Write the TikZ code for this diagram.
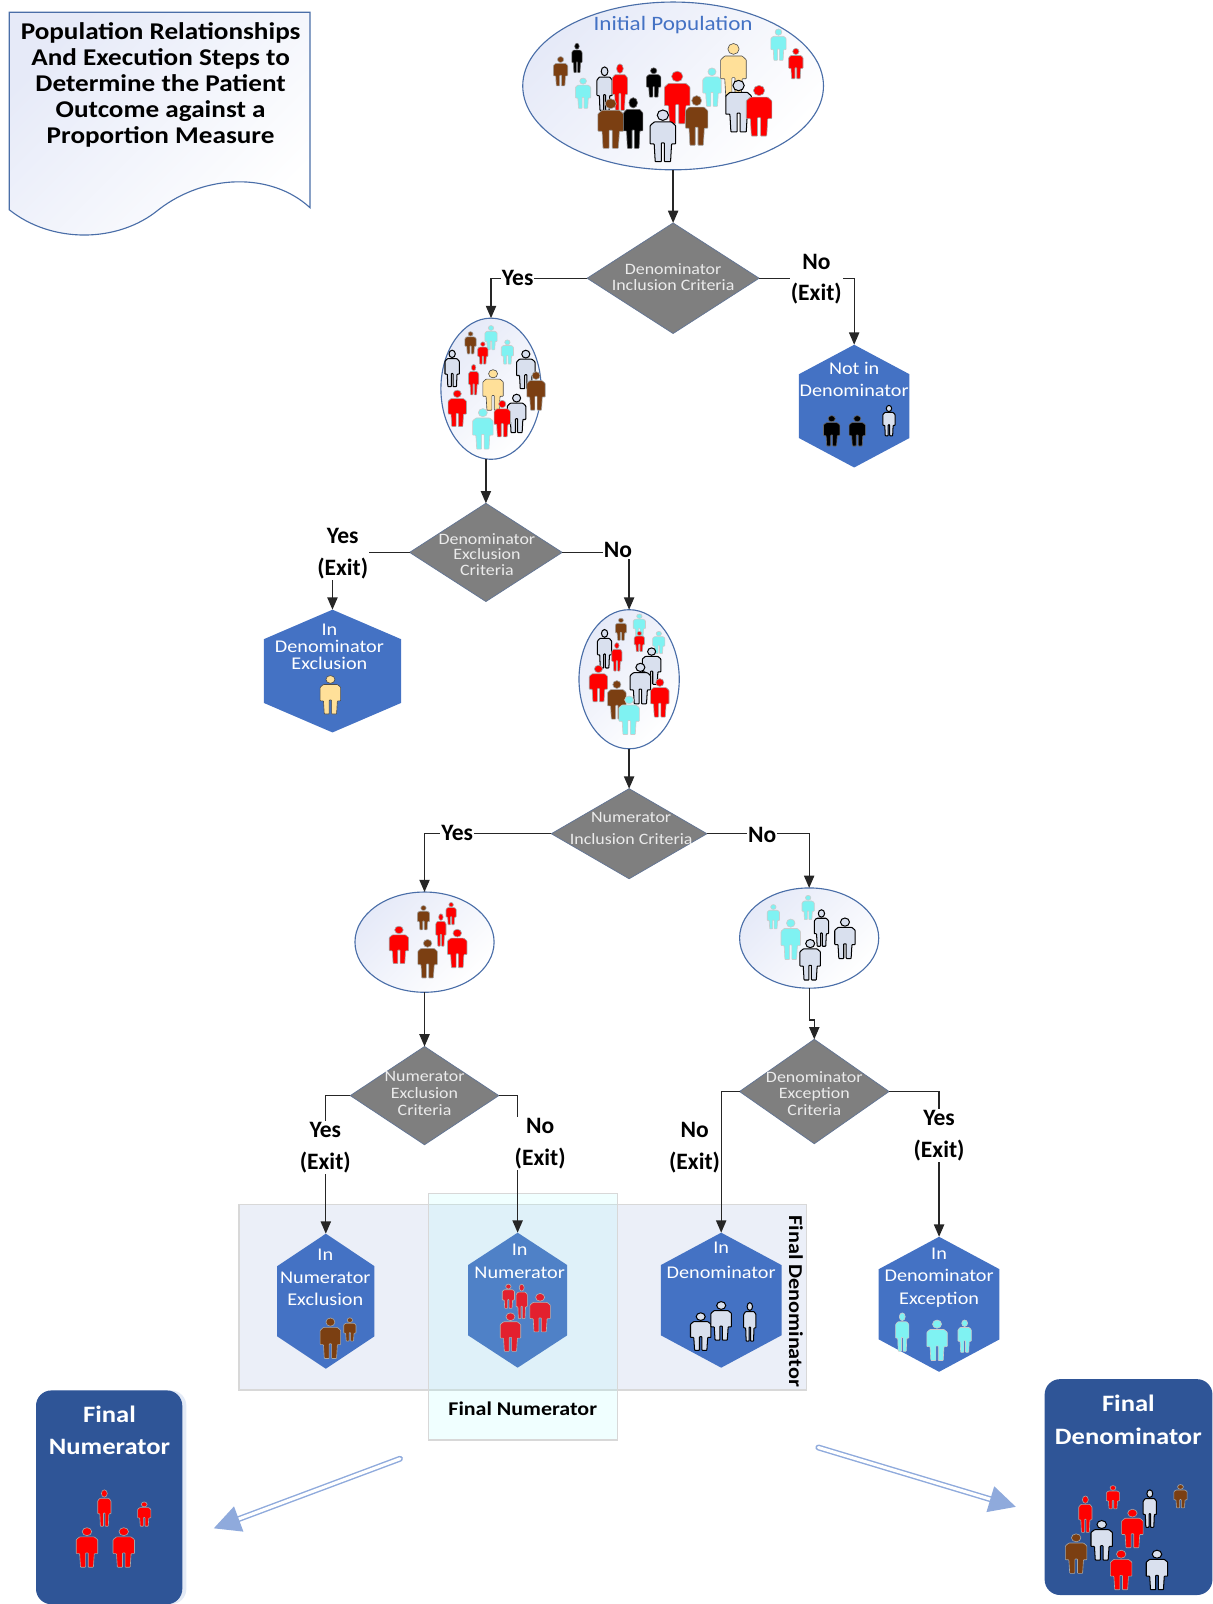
\documentclass[tikz,border=0pt]{standalone}
\usepackage{fontspec}
\setmainfont{Carlito}
\newfontfamily\widefont[FakeStretch=1.13]{Carlito}
\usepackage{tikz}
\usetikzlibrary{arrows.meta, positioning, shapes.geometric, calc, shadows}

\definecolor{hexblue}{HTML}{4472C4}
\definecolor{hexlight}{HTML}{4F81C7}
\definecolor{finalblue}{HTML}{2F5597}
\definecolor{tipblue}{HTML}{8FAADC}
\definecolor{decisiongrey}{HTML}{7F7F7F}
\definecolor{outlineblue}{HTML}{4A6EA8}
\definecolor{paleblue}{HTML}{E6EAF8}
\definecolor{denomband}{HTML}{EBEFF8}
\definecolor{numband}{HTML}{9BFFFF}
\definecolor{bandline}{HTML}{D8D8D8}
\definecolor{personbrown}{HTML}{7B3F12}
\definecolor{persongrey}{HTML}{D9E0EE}
\definecolor{personcyan}{HTML}{7FF2F2}
\definecolor{persontan}{HTML}{FFE099}
\definecolor{personred}{HTML}{FF0000}
\definecolor{softred}{HTML}{E3202E}

% One figure: centre x, top y, width, height, look
\newcommand{\person}[5]{%
  \begin{scope}[shift={(#1,#2)}, x=#3pt, y=-#4pt, line width=.6pt, #5]
    \filldraw (0,.11) circle [x radius=.22, y radius=.1];
    \filldraw[rounded corners=.6pt] (-.34,.24) -- (.34,.24) -- (.5,.31) -- (.5,.66) -- (.34,.66) -- (.3,1)
        -- (.06,1) -- (.06,.64) -- (-.06,.64) -- (-.06,1) -- (-.3,1) -- (-.34,.66) -- (-.5,.66) -- (-.5,.31) -- cycle;
  \end{scope}
}

% Hexagon: [fill] name, centre x, top y, width, height
\newcommand{\hexbox}[6][hexblue]{%
  \node[hexframe, minimum width=#5pt, minimum height=#6pt] (#2) at (#3,#4) {};
  \fill[#1] (#2.north) -- ($(#2.north east)!.24!(#2.south east)$) -- ($(#2.north east)!.76!(#2.south east)$)
      -- (#2.south) -- ($(#2.north west)!.76!(#2.south west)$) -- ($(#2.north west)!.24!(#2.south west)$) -- cycle;
}

\begin{document}
\begin{tikzpicture}[
    x=1pt, y=-1pt,
    % Styles
    popcloud/.style={ellipse, draw=outlineblue, line width=1.1pt, top color=paleblue, middle color=white, bottom color=white, shading angle=45, inner sep=0pt, outer sep=0pt},
    decision/.style={diamond, draw=outlineblue!50!decisiongrey, line width=.8pt, fill=decisiongrey, inner sep=0pt, outer sep=0pt},
    decisiontext/.style={font=\widefont\fontsize{15.5}{15}\selectfont, text=white!92!black, align=center, inner sep=0pt},
    hexframe/.style={anchor=north, inner sep=0pt, outer sep=0pt},
    hextext/.style={font=\widefont\fontsize{17.5}{22}\selectfont, text=white, align=center, inner sep=0pt},
    flowline/.style={draw=black!85, line width=1.3pt, -{Triangle[length=12pt,width=10pt]}},
    flowlabel/.style={font=\bfseries\fontsize{23}{31}\selectfont, fill=white, align=center, inner sep=1pt},
    finalbox/.style={anchor=north west, fill=finalblue, rounded corners=15pt, inner sep=0pt},
    finaltext/.style={font=\widefont\bfseries\fontsize{23}{31.5}\selectfont, text=white, align=center, inner sep=0pt},
    bandbox/.style={anchor=north west, draw=bandline, line width=1.3pt, inner sep=0pt},
    bigarrow/.style={double=white, double distance=3pt, draw=tipblue, line width=1.4pt, line cap=round, -{Triangle[length=26pt,width=26pt,fill=tipblue]}},
    pred/.style={fill=personred, draw=black!35},
    psoft/.style={fill=softred, draw=black!30},
    pbrown/.style={fill=personbrown, draw=black!35},
    pblack/.style={fill=black, draw=black!60},
    pgrey/.style={fill=persongrey, draw=black, line width=1pt},
    pcyan/.style={fill=personcyan, draw=black!20},
    ptan/.style={fill=persontan, draw=black!70}
]
    \useasboundingbox (0,0) rectangle (1185,1568);

    % Title sheet
    \path[draw=outlineblue, line width=1.1pt, top color=paleblue, middle color=white, bottom color=white, shading angle=45]
        (9,12) -- (303,12) -- (303,203) .. controls (265,168) and (200,170) .. (155,205)
        .. controls (115,238) and (50,238) .. (9,205) -- cycle;
    \node[font=\widefont\bfseries\fontsize{23.5}{25.3}\selectfont, align=center, inner sep=0pt] (title) at (157,83)
        {Population Relationships\\And Execution Steps to\\Determine the Patient\\Outcome against a\\Proportion Measure};

    % Final Denominator and Final Numerator bands
    \node[bandbox, fill=denomband, minimum width=555pt, minimum height=181pt] (denomband) at (233,1177) {};
    \node[bandbox, fill=numband, fill opacity=.15, minimum width=185pt, minimum height=241pt] (numband) at (418,1166) {};
    \node[font=\widefont\bfseries\fontsize{19.2}{19}\selectfont, rotate=-90, inner sep=0pt] (denomlabel) at (778,1272) {Final Denominator};
    \node[font=\widefont\bfseries\fontsize{19}{19}\selectfont, inner sep=0pt] (numlabel) at (511,1377) {Final Numerator};

    % Initial Population
    \node[popcloud, minimum width=294pt, minimum height=164pt] (initpop) at (658,84) {};
    \node[font=\widefont\fontsize{20}{20}\selectfont, text=hexblue, inner sep=0pt] (initlabel) at (658,24) {Initial Population};
    \person{548}{55}{14}{29}{pbrown}
    \person{564}{42}{10}{29}{pblack}
    \person{570}{76}{15}{30}{pcyan}
    \person{591}{65}{15}{43}{pgrey}
    \person{606}{62}{15}{46}{pred}
    \person{639}{66}{14}{29}{pblack}
    \person{696}{66}{18}{38}{pcyan}
    \person{717}{42}{25}{53}{ptan}
    \person{761}{28}{15}{31}{pcyan}
    \person{778}{47}{14}{30}{pred}
    \person{662}{69}{25}{52}{pred}
    \person{722}{78}{25}{51}{pgrey}
    \person{742}{83}{25}{50}{pred}
    \person{597}{96}{25}{49}{pbrown}
    \person{619}{95}{19}{50}{pblack}
    \person{681}{93}{22}{49}{pbrown}
    \person{648}{107}{25}{51}{pgrey}

    % Denominator inclusion
    \node[decision, minimum width=168pt, minimum height=108pt] (dinc) at (658,272) {};
    \node[decisiontext] (dinctext) at (658,271) {Denominator\\Inclusion Criteria};

    % After inclusion
    \node[popcloud, minimum width=98pt, minimum height=138pt] (pop2) at (480,380) {};
    \person{460}{324}{11}{22}{pbrown}
    \person{480}{318}{12}{24}{pcyan}
    \person{472}{334}{10}{22}{pred}
    \person{496}{332}{12}{24}{pcyan}
    \person{442}{342}{14}{36}{pgrey}
    \person{463}{356}{10}{30}{pred}
    \person{514}{342}{18}{38}{pgrey}
    \person{482}{361}{20}{40}{ptan}
    \person{524}{363}{18}{38}{pbrown}
    \person{447}{381}{18}{36}{pred}
    \person{505}{385}{18}{38}{pgrey}
    \person{491}{391}{16}{36}{pred}
    \person{472}{399}{20}{40}{pcyan}

    % Not in Denominator
    \hexbox{notdenom}{835}{337}{108}{120}
    \node[hextext] (notdenomtext) at (835,371) {Not in\\Denominator};
    \person{813}{406}{16}{30}{pblack}
    \person{838}{406}{16}{30}{pblack}
    \person{869}{396}{12}{30}{pgrey}

    % Denominator exclusion
    \node[decision, minimum width=149pt, minimum height=96pt] (dexc) at (475,540) {};
    \node[decisiontext] (dexctext) at (476,542) {Denominator\\Exclusion\\Criteria};

    % In Denominator Exclusion
    \hexbox{indenexc}{325}{596}{134}{120}
    \node[hextext, font=\widefont\fontsize{17.5}{16.5}\selectfont] (indenexctext) at (322,632) {In\\Denominator\\Exclusion};
    \person{323}{660}{20}{38}{ptan}

    % After exclusion
    \node[popcloud, minimum width=98pt, minimum height=136pt] (pop3) at (615,664) {};
    \person{607}{604}{11}{22}{pbrown}
    \person{625}{600}{12}{22}{pcyan}
    \person{625}{617}{10}{20}{pred}
    \person{644}{617}{12}{22}{pcyan}
    \person{591}{615}{14}{38}{pgrey}
    \person{603}{628}{10}{28}{pred}
    \person{637}{633}{18}{36}{pgrey}
    \person{585}{650}{18}{36}{pred}
    \person{626}{648}{20}{40}{pgrey}
    \person{603}{665}{18}{38}{pbrown}
    \person{645}{663}{18}{38}{pred}
    \person{615}{680}{20}{38}{pcyan}

    % Numerator inclusion
    \node[decision, minimum width=152pt, minimum height=88pt] (ninc) at (615,815) {};
    \node[decisiontext, font=\widefont\fontsize{15.5}{21}\selectfont] (ninctext) at (617,810) {Numerator\\Inclusion Criteria};

    % Inside numerator population
    \node[popcloud, minimum width=136pt, minimum height=98pt] (pop4) at (415,921) {};
    \person{414}{885}{12}{24}{pbrown}
    \person{441}{882}{10}{22}{pred}
    \person{431}{893}{10}{32}{pred}
    \person{390}{905}{19}{37}{pred}
    \person{447}{908}{19}{38}{pred}
    \person{418}{918}{19}{38}{pbrown}

    % Outside numerator population
    \node[popcloud, minimum width=136pt, minimum height=98pt] (pop5) at (791,917) {};
    \person{756}{884}{12}{24}{pcyan}
    \person{790}{875}{12}{24}{pcyan}
    \person{803}{889}{14}{36}{pgrey}
    \person{773}{898}{19}{40}{pcyan}
    \person{826}{897}{20}{40}{pgrey}
    \person{792}{918}{20}{40}{pgrey}

    % Numerator exclusion
    \node[decision, minimum width=145pt, minimum height=96pt] (nexc) at (415,1071) {};
    \node[decisiontext, font=\widefont\fontsize{15.5}{16.5}\selectfont] (nexctext) at (415,1069) {Numerator\\Exclusion\\Criteria};

    % Denominator exception
    \node[decision, minimum width=146pt, minimum height=102pt] (dexcp) at (796,1067) {};
    \node[decisiontext, font=\widefont\fontsize{15.5}{16.5}\selectfont] (dexcptext) at (796,1069) {Denominator\\Exception\\Criteria};

    % In Numerator Exclusion
    \hexbox{innumexc}{318.5}{1206}{95}{132}
    \node[hextext] (innumexctext) at (318,1249) {In\\Numerator\\Exclusion};
    \person{323}{1288}{20}{40}{pbrown}
    \person{342}{1288}{12}{23}{pbrown}

    % In Numerator
    \hexbox[hexlight]{innum}{506}{1205}{97}{132}
    \node[hextext] (innumtext) at (508,1233) {In\\Numerator};
    \person{497}{1255}{12}{24}{psoft}
    \person{510}{1255}{11}{34}{psoft}
    \person{528}{1264}{20}{38}{psoft}
    \person{499}{1283}{20}{38}{psoft}

    % In Denominator
    \hexbox{indenom}{705}{1205}{118}{132}
    \node[hextext, font=\widefont\fontsize{17.5}{24}\selectfont] (indenomtext) at (705,1232) {In\\Denominator};
    \person{685}{1283}{20}{37}{pgrey}
    \person{705}{1272}{20}{38}{pgrey}
    \person{733}{1273}{12}{38}{pgrey}

    % In Denominator Exception
    \hexbox{indenexcp}{918}{1209}{118}{132}
    \node[hextext] (indenexcptext) at (918,1249) {In\\Denominator\\Exception};
    \person{882}{1283}{13}{38}{pcyan}
    \person{916}{1290}{20}{40}{pcyan}
    \person{943}{1290}{13}{32}{pcyan}

    % Arrows connecting stages
    \draw[flowline] (initpop.south) -- (dinc.north);
    \draw[flowline] (dinc.west) -| (pop2.north);
    \draw[flowline] (dinc.east) -| (notdenom.north);
    \draw[flowline] (pop2.south -| dexc.north) -- (dexc.north);
    \draw[flowline] (dexc.west) -| (indenexc.north);
    \draw[flowline] (dexc.east) -| (pop3.north);
    \draw[flowline] (pop3.south) -- (ninc.north);
    \draw[flowline] (ninc.west) -| (pop4.north);
    \draw[flowline] (ninc.east) -| (pop5.north);
    \draw[flowline] (pop4.south) -- (nexc.north);
    \draw[flowline] (pop5.south) -- ++(0,31) -| (dexcp.north);
    \draw[flowline] (nexc.west) -| (innumexc.north);
    \draw[flowline] (nexc.east) -| (innum.north);
    \draw[flowline] (dexcp.west) -| (indenom.north);
    \draw[flowline] (dexcp.east) -| (indenexcp.north);

    % Branch labels
    \node[flowlabel] (dincyes) at (506,272) {Yes};
    \node[flowlabel] (dincno) at (798,273) {No\\(Exit)};
    \node[flowlabel] (dexcyes) at (335,541) {Yes\\(Exit)};
    \node[flowlabel] (dexcno) at (604,538) {No};
    \node[flowlabel] (nincyes) at (447,814) {Yes};
    \node[flowlabel] (nincno) at (745,816) {No};
    \node[flowlabel] (nexcyes) at (318,1122) {Yes\\(Exit)};
    \node[flowlabel] (nexcno) at (528,1118) {No\\(Exit)};
    \node[flowlabel, fill=none] (dexcpno) at (679,1122) {No\\(Exit)};
    \node[flowlabel] (dexcpyes) at (918,1110) {Yes\\(Exit)};

    % Final Numerator box
    \node[finalbox, drop shadow={shadow xshift=4pt, shadow yshift=0pt, fill=tipblue!25, opacity=1}, minimum width=143pt, minimum height=209pt] (finalnum) at (35,1359) {};
    \node[finaltext] (finalnumtext) at (107,1398) {Final\\Numerator};
    \person{102}{1456}{13}{36}{pred}
    \person{141}{1468}{13}{24}{pred}
    \person{85}{1493}{21}{39}{pred}
    \person{121}{1493}{21}{39}{pred}

    % Final Denominator box
    \node[finalbox, minimum width=164pt, minimum height=211pt] (finaldenom) at (1021,1348) {};
    \node[finaltext] (finaldenomtext) at (1103,1388) {Final\\Denominator};
    \person{1061}{1462}{13}{36}{pred}
    \person{1088}{1452}{13}{23}{pred}
    \person{1124}{1456}{13}{37}{pgrey}
    \person{1154}{1451}{13}{23}{pbrown}
    \person{1107}{1475}{21}{38}{pred}
    \person{1077}{1486}{21}{39}{pgrey}
    \person{1052}{1499}{21}{39}{pbrown}
    \person{1096}{1515}{21}{39}{pred}
    \person{1131}{1515}{21}{39}{pgrey}

    % Block arrows to the final boxes
    \coordinate (numstart) at (391,1426);
    \coordinate (numend) at (209,1494);
    \coordinate (denomstart) at (800,1415);
    \coordinate (denomend) at (993,1473);
    \draw[bigarrow] (numstart) -- (numend);
    \draw[bigarrow] (denomstart) -- (denomend);
\end{tikzpicture}
\end{document}
